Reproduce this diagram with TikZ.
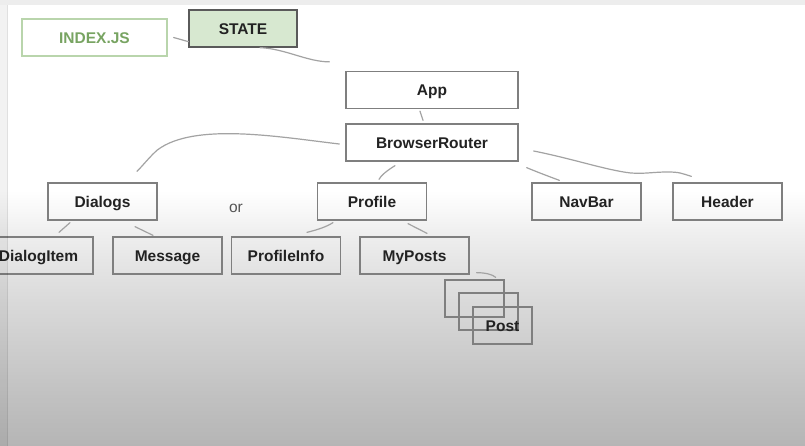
\documentclass[tikz,border=0pt]{standalone}
\usepackage{fontspec}
\setmainfont{Liberation Sans}

\definecolor{boxgray}{HTML}{7F7F7F}
\definecolor{linkgray}{HTML}{A3A3A3}
\definecolor{textdark}{HTML}{222222}
\definecolor{stategreen}{HTML}{D7E8D0}
\definecolor{stateedge}{HTML}{5A5A5A}
\definecolor{indexedge}{HTML}{B9D5AC}
\definecolor{indextext}{HTML}{78A462}
\definecolor{ortext}{HTML}{555555}
\definecolor{fadeA}{HTML}{B5B5B5}
\definecolor{fadeB}{HTML}{C0C0C0}
\definecolor{fadeC}{HTML}{CDCDCD}
\definecolor{fadeD}{HTML}{DADADA}
\definecolor{fadeE}{HTML}{E6E6E6}
\definecolor{fadeF}{HTML}{F0F0F0}
\definecolor{fadeG}{HTML}{F8F8F8}
\definecolor{stripgray}{HTML}{EDEDED}

% lower part of the sheet fades from white to grey
\pgfdeclareverticalshading{sheetfade}{100bp}{%
  color(0bp)=(fadeA); color(25bp)=(fadeA); color(34bp)=(fadeB);
  color(43.75bp)=(fadeC); color(53.5bp)=(fadeD); color(61.3bp)=(fadeE);
  color(67.2bp)=(fadeF); color(71.1bp)=(fadeG); color(75bp)=(white);
  color(100bp)=(white)}

\tikzset{
  labelfont/.style={font=\fontsize{15.5}{18}\selectfont\bfseries},
  box/.style={draw=boxgray, line width=1.3pt, minimum height=37pt,
    minimum width=109pt, inner sep=0pt, text height=13pt, text depth=1pt,
    text=textdark, labelfont},
  widebox/.style={box, minimum width=172pt},
  postbox/.style={box, minimum width=59pt},
  statebox/.style={box, draw=stateedge, fill=stategreen, minimum width=108pt},
  indexbox/.style={box, draw=indexedge, text=indextext, minimum width=145pt},
  link/.style={draw=linkgray, line width=1.2pt, line cap=round},
}

\begin{document}
\begin{tikzpicture}[x=1pt, y=-1pt]
  % sheet background
  \useasboundingbox (0,0) rectangle (805,446);
  \fill[white] (0,0) rectangle (805,446);
  \shade[shading=sheetfade] (0,190) rectangle (805,446);

  % top level
  \node[indexbox] (index) at (94.5,37.5) {INDEX.JS};
  \node[statebox] (state) at (243,28.5) {STATE};
  \node[widebox] (app) at (432,90) {App};
  \node[widebox] (br) at (432,142.5) {BrowserRouter};

  % pages and layout parts
  \node[box] (dialogs) at (102.5,201.5) {Dialogs};
  \node[box] (profile) at (372,201.5) {Profile};
  \node[box] (navbar) at (586.5,201.5) {NavBar};
  \node[box] (header) at (727.5,201.5) {Header};
  \node[text=ortext, font=\fontsize{15.5}{18}\selectfont] (or) at (236,208) {or};

  % children of the pages
  \node[box] (dialogitem) at (38.5,255.5) {DialogItem};
  \node[box] (message) at (167.5,255.5) {Message};
  \node[box] (profileinfo) at (286,255.5) {ProfileInfo};
  \node[box] (myposts) at (414.5,255.5) {MyPosts};

  % stack of posts
  \node[postbox] (posta) at (474.5,298.5) {};
  \node[postbox] (postb) at (488.5,311.5) {};
  \node[postbox] (postc) at (502.5,325.5) {Post};

  % connectors
  \draw[link] ([xshift=6pt]index.east) -- ([yshift=6pt]state.south west);
  \draw[link] ([xshift=17pt]state.south)
    .. controls +(25,1) and +(-22,0) .. ([xshift=-16pt,yshift=9pt]app.north west);
  \draw[link] ([xshift=-12pt,yshift=-2pt]app.south) -- ([xshift=-9pt,yshift=3pt]br.north);
  \draw[link] ([xshift=-6pt,yshift=-1.5pt]br.west)
    .. controls +(-60,-7) and +(37,-28) .. ++(-182,6)
    .. controls +(-7,6) and +(6,-6) .. ([xshift=34.5pt,yshift=11pt]dialogs.north);
  \draw[link] ([xshift=-37pt,yshift=-4pt]br.south)
    .. controls +(-8,5) and +(2,-4) .. ([xshift=7pt,yshift=3pt]profile.north);
  \draw[link] ([xshift=8pt,yshift=-6pt]br.south east)
    .. controls +(12,5) and +(-8,-3) .. ([xshift=28pt,yshift=2pt]navbar.north west);
  \draw[link] ([xshift=15pt,yshift=-8.5pt]br.east)
    .. controls +(40,8) and +(-25,-3) .. ++(97,22)
    .. controls +(15,1) and +(-15,0) .. ++(37,-1)
    .. controls +(12,0) and +(-10,-3) .. ([xshift=19pt,yshift=6pt]header.north west);
  \draw[link] ([xshift=-32.5pt,yshift=-2pt]dialogs.south) -- ([xshift=20.5pt,yshift=4pt]dialogitem.north);
  \draw[link] ([xshift=32.5pt,yshift=-6pt]dialogs.south) -- ([xshift=-14.5pt,yshift=1pt]message.north);
  \draw[link] ([xshift=-39pt,yshift=-2pt]profile.south)
    .. controls +(-8,5) and +(8,-2) .. ([xshift=21pt,yshift=4pt]profileinfo.north);
  \draw[link] ([xshift=36pt,yshift=-3pt]profile.south) -- ([xshift=12.5pt,yshift=3pt]myposts.north);
  \draw[link] ([xshift=7pt,yshift=2pt]myposts.south east)
    .. controls +(8,0) and +(-3,-3) .. ([xshift=-9pt,yshift=2pt]posta.north east);

  % sheet edges
  \fill[stripgray] (0,0) rectangle (805,5);
  \fill[black, opacity=0.05] (0,5) rectangle (7,446);
  \draw[black, opacity=0.12, line width=1pt] (7.5,5) -- (7.5,446);
\end{tikzpicture}
\end{document}
